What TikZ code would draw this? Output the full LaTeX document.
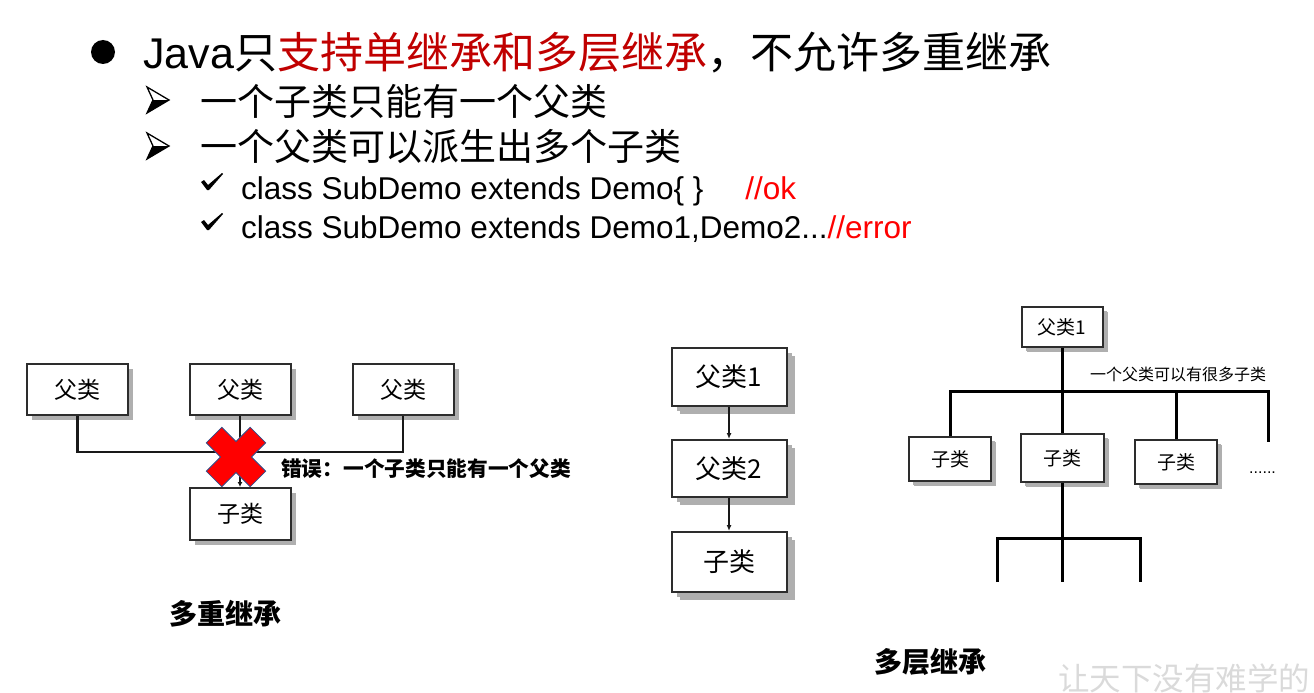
\documentclass[tikz,border=0pt]{standalone}
\usepackage{fontspec}
\setmainfont{Liberation Sans}
\newfontfamily\cjk{Noto Sans CJK SC}
\usetikzlibrary{shadows,arrows.meta}
\definecolor{darkred}{RGB}{192,0,0}
\definecolor{xred}{RGB}{255,0,0}
\definecolor{xblue}{RGB}{47,82,143}
\definecolor{boxline}{RGB}{45,45,45}
\definecolor{shadowgray}{RGB}{175,175,175}
\definecolor{wm}{RGB}{218,218,218}
\begin{document}
\begin{tikzpicture}[x=1pt,y=-1pt,
  sbox/.style={draw=boxline, line width=2pt, fill=white, inner sep=0pt,
    drop shadow={shadow xshift=5pt, shadow yshift=-5pt, fill=shadowgray, opacity=1}},
  conn/.style={line width=2.8pt, draw=black!90},
  arr/.style={line width=2pt, draw=black!90, -{Latex[length=6pt,width=5pt]}},
  tree/.style={line width=3pt, draw=black},
  txt/.style={inner sep=0pt, anchor=base west},
  arrowbullet/.pic={
    \fill[black] (-5,0) -- (11,0) -- (-11,13) -- cycle;
    \draw[line width=1.3pt, line join=miter] (-11,-13) -- (11,0) -- (-11,13) -- (-5,0) -- cycle;
  },
  checkmark/.pic={
    \fill[black] (-11,0) -- (-8,-2) -- (-4,3) -- (10,-9) -- (11,-8) -- (-3,8) -- (-5,8) -- cycle;
  }]
\useasboundingbox (0,0) rectangle (1314,693);

% ---------- text block ----------
\fill (103,52) circle (12);
\node[txt] (t1) at (143,68) {\fontsize{43}{43}\selectfont Java\cjk 只\textcolor{darkred}{支持单继承和多层继承}，不允许多重继承};
\pic at (158,100) {arrowbullet};
\node[txt] (t2) at (200,115) {\cjk\fontsize{37}{37}\selectfont 一个子类只能有一个父类};
\pic at (158,146) {arrowbullet};
\node[txt] (t3) at (200,160) {\cjk\fontsize{37}{37}\selectfont 一个父类可以派生出多个子类};
\pic at (212,182) {checkmark};
\node[txt] (t4) at (241,199) {\fontsize{31.5}{31.5}\selectfont class SubDemo extends Demo\{ \}\hspace*{42pt}\textcolor{xred}{//ok}};
\pic at (212,222) {checkmark};
\node[txt] (t5) at (241,238) {\fontsize{31.5}{31.5}\selectfont class SubDemo extends Demo1,Demo2...\textcolor{xred}{//error}};

% ---------- left: multiple inheritance ----------
\node[sbox, minimum width=101pt, minimum height=51pt] (L1) at (77.5,389.5) {\cjk\fontsize{23}{23}\selectfont 父类};
\node[sbox, minimum width=101pt, minimum height=51pt] (L2) at (240,389.5) {\cjk\fontsize{23}{23}\selectfont 父类};
\node[sbox, minimum width=101pt, minimum height=51pt] (L3) at (403,389.5) {\cjk\fontsize{23}{23}\selectfont 父类};
\node[sbox, minimum width=101pt, minimum height=52pt] (LC) at (240,514) {\cjk\fontsize{23}{23}\selectfont 子类};
\coordinate (busL) at (77.5,452);
\draw[conn] (L1.south) |- (L3.south |- busL) -- (L3.south);
\draw[conn, -{Latex[length=5pt,width=5pt]}] (L2.south) -- (LC.north);
\begin{scope}[shift={(236,457)}, rotate=45]
  \filldraw[fill=xred, draw=xblue, line width=0.8pt]
    (-11,-31) -- (11,-31) -- (11,-11) -- (31,-11) -- (31,11) -- (11,11) -- (11,31)
    -- (-11,31) -- (-11,11) -- (-31,11) -- (-31,-11) -- (-11,-11) -- cycle;
\end{scope}
\node[anchor=west, inner sep=0pt] (err) at (281,469) {\cjk\bfseries\fontsize{20.7}{20.7}\selectfont 错误：一个子类只能有一个父类};
\node[inner sep=0pt] (lab1) at (225,614) {\cjk\bfseries\fontsize{28}{28}\selectfont 多重继承};

% ---------- middle: multilevel ----------
\node[sbox, minimum width=115pt, minimum height=58pt, drop shadow={shadow xshift=8pt, shadow yshift=-8pt, fill=shadowgray, opacity=1}] (M1) at (729,377) {\cjk\fontsize{26}{26}\selectfont 父类1};
\node[sbox, minimum width=115pt, minimum height=57pt, drop shadow={shadow xshift=8pt, shadow yshift=-8pt, fill=shadowgray, opacity=1}] (M2) at (729,468.5) {\cjk\fontsize{26}{26}\selectfont 父类2};
\node[sbox, minimum width=115pt, minimum height=60pt, drop shadow={shadow xshift=8pt, shadow yshift=-8pt, fill=shadowgray, opacity=1}] (M3) at (729,562) {\cjk\fontsize{26}{26}\selectfont 子类};
\draw[arr] (M1.south) -- (M2.north);
\draw[arr] (M2.south) -- (M3.north);

% ---------- right: one parent, many children ----------
\node[sbox, minimum width=81pt, minimum height=40pt, drop shadow={shadow xshift=4pt, shadow yshift=-4pt, fill=shadowgray, opacity=1}] (R0) at (1062,327) {\cjk\fontsize{19}{19}\selectfont 父类1};
\node[sbox, minimum width=82pt, minimum height=44pt, drop shadow={shadow xshift=4pt, shadow yshift=-4pt, fill=shadowgray, opacity=1}] (R1) at (950,459) {\cjk\fontsize{19}{19}\selectfont 子类};
\node[sbox, minimum width=83pt, minimum height=48pt, drop shadow={shadow xshift=4pt, shadow yshift=-4pt, fill=shadowgray, opacity=1}] (R2) at (1062,458) {\cjk\fontsize{19}{19}\selectfont 子类};
\node[sbox, minimum width=82pt, minimum height=44pt, drop shadow={shadow xshift=4pt, shadow yshift=-4pt, fill=shadowgray, opacity=1}] (R3) at (1176,462) {\cjk\fontsize{19}{19}\selectfont 子类};
\coordinate (rb) at (1062,391);
\coordinate (rbR) at (1268,391);
\coordinate (rend) at (1268,442);
\draw[tree] (R0.south) -- (R2.north);
\draw[tree] (R1.north) |- (rbR) -- (rend);
\draw[tree] (R3.north) -- (R3.north |- rb);
\node[anchor=west, inner sep=0pt] (rlab) at (1090,374) {\cjk\fontsize{16}{16}\selectfont 一个父类可以有很多子类};
\node[anchor=west, inner sep=0pt] (dots) at (1249,473) {\fontsize{16}{16}\selectfont ......};
\coordinate (lb) at (1062,538);
\coordinate (lbL) at (997,538);
\coordinate (lbR) at (1140,538);
\coordinate (lbLe) at (997,582);
\coordinate (lbMe) at (1062,582);
\coordinate (lbRe) at (1140,582);
\draw[tree] (R2.south) -- (lbMe);
\draw[tree] (lbLe) -- (lbL) -- (lbR) -- (lbRe);
\node[inner sep=0pt] (lab2) at (930,662) {\cjk\bfseries\fontsize{28}{28}\selectfont 多层继承};

% watermark
\node[anchor=west, inner sep=0pt] (wmk) at (1058,678) {\cjk\fontsize{31.5}{31.5}\selectfont\color{wm} 让天下没有难学的};
\end{tikzpicture}
\end{document}
